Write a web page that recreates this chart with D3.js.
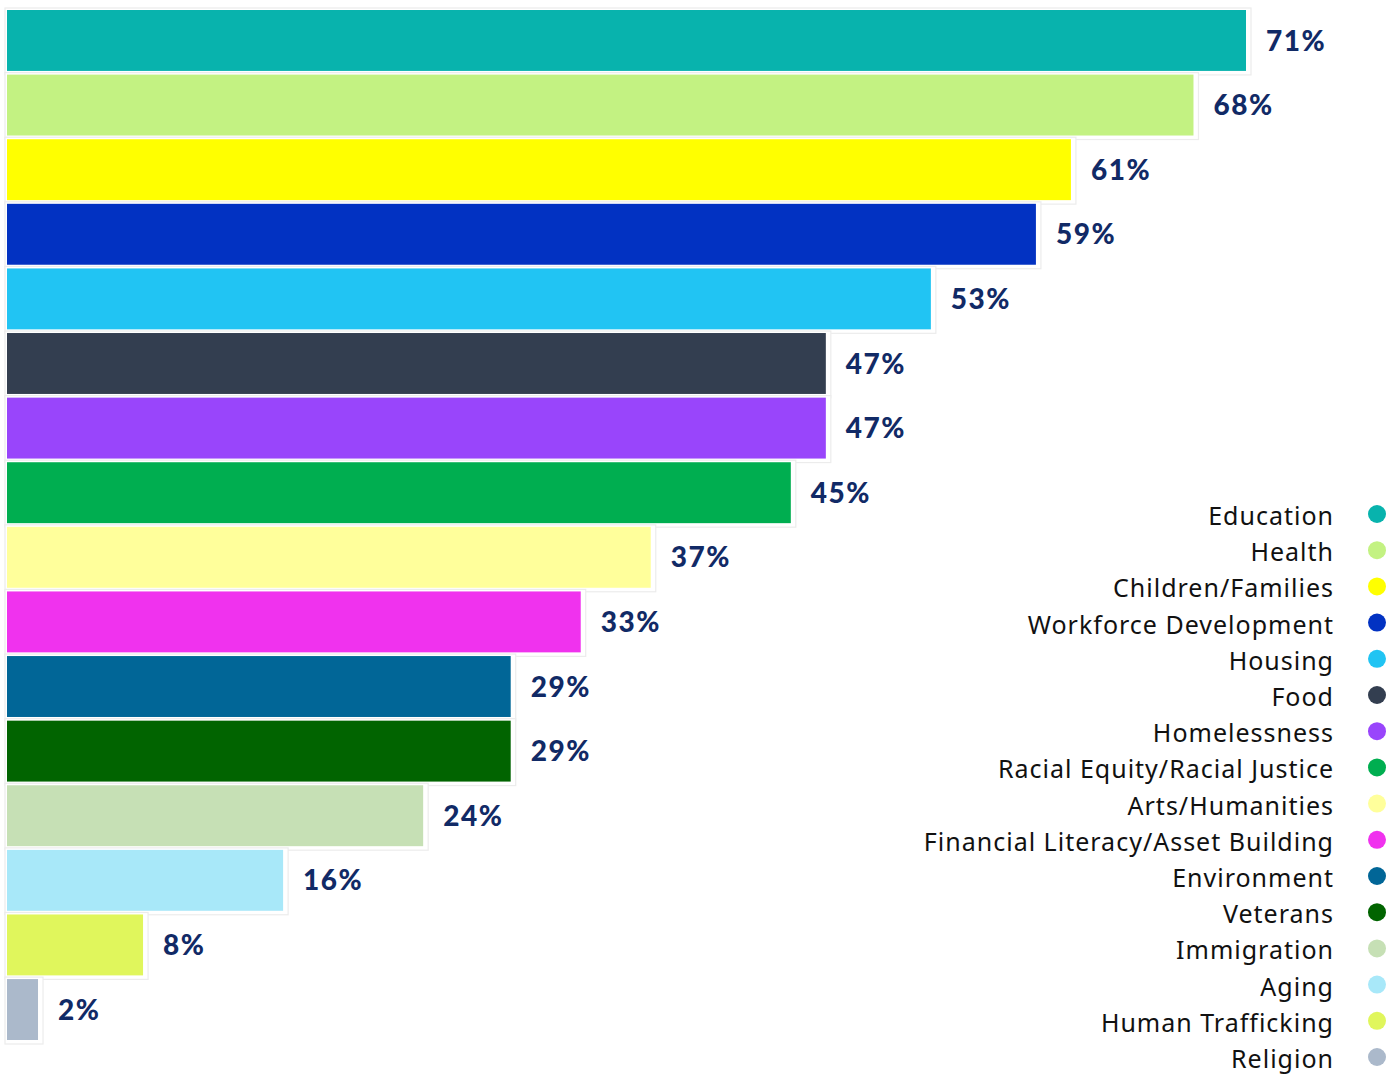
<!DOCTYPE html>
<html><head><meta charset="utf-8">
<script src="https://cdn.jsdelivr.net/npm/d3@7"></script>
<style>body{margin:0;background:#fff;}svg{display:block;}</style>
</head><body>
<svg id="c" width="1392" height="1074"></svg>
<script>
const categories = ["Education","Health","Children/Families","Workforce Development","Housing","Food","Homelessness","Racial Equity/Racial Justice","Arts/Humanities","Financial Literacy/Asset Building","Environment","Veterans","Immigration","Aging","Human Trafficking","Religion"];
const values = [71,68,61,59,53,47,47,45,37,33,29,29,24,16,8,2];
const colors = ["#08b3ad","#c3f282","#ffff00","#0232c2","#21c4f3","#333e50","#9945fb","#00ae50","#ffff9b","#f032ee","#016697","#016400","#c6e0b5","#a8e8f9","#e0f65c","#abb9cb"];
const labels = values.map(v => v + "%");

const svg = d3.select("#c");
const x = d3.scaleLinear().domain([0, 71]).range([3, 1246]);
const y = d3.scaleBand().domain(categories).range([10, 1040]).paddingInner(0.057).paddingOuter(0);
const x0 = 7;

const g = svg.append("g");
const rows = g.selectAll("g.row").data(categories).join("g").attr("class","row");
rows.append("rect")
  .attr("x", x0 - 2)
  .attr("y", d => y(d) - 2)
  .attr("width", (d,i) => x(values[i]) - x0 + 7)
  .attr("height", y.bandwidth() + 6)
  .attr("fill", "#fff")
  .attr("stroke", "#ececec")
  .attr("stroke-width", 1.2);
rows.append("rect")
  .attr("x", x0)
  .attr("y", d => y(d))
  .attr("width", (d,i) => x(values[i]) - x0)
  .attr("height", y.bandwidth())
  .attr("fill", (d,i) => colors[i]);
rows.append("text")
  .attr("x", (d,i) => x(values[i]) + 20)
  .attr("y", d => y(d) + y.bandwidth()/2)
  .attr("dy", "0.36em")
  .attr("font-family", "Lato, 'Open Sans', sans-serif")
  .attr("font-weight", 900)
  .attr("font-size", 28)
  .attr("letter-spacing", 1.5)
  .attr("fill", "#112a66")
  .text((d,i) => labels[i]);

const ly = d3.scalePoint().domain(categories).range([516, 1059]);
const leg = svg.append("g");
leg.selectAll("text").data(categories).join("text")
  .attr("x", 1334)
  .attr("y", d => ly(d))
  .attr("dy", "0.36em")
  .attr("text-anchor", "end")
  .attr("font-family", "'Noto Sans', sans-serif")
  .attr("font-size", 25)
  .attr("letter-spacing", 1)
  .attr("fill", "#111")
  .text(d => d);
leg.selectAll("circle").data(categories).join("circle")
  .attr("cx", 1377)
  .attr("cy", d => ly(d) - 2)
  .attr("r", 9)
  .attr("fill", (d,i) => colors[i]);
</script>
</body></html>
